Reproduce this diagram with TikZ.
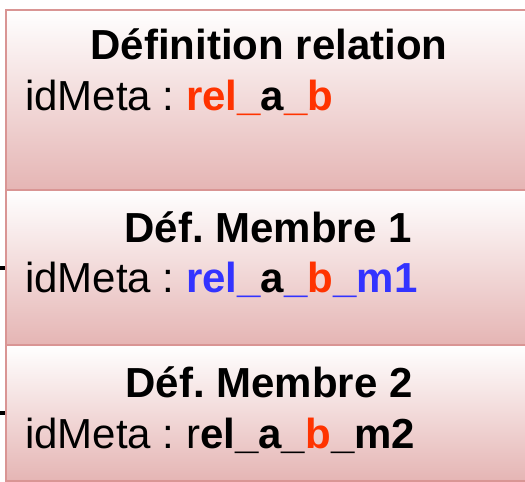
\documentclass[tikz,border=0pt]{standalone}
\usepackage{fontspec}
\setmainfont{Liberation Sans}
\usetikzlibrary{positioning}
\definecolor{rouge}{RGB}{255,51,0}
\definecolor{bleu}{RGB}{51,51,255}
\definecolor{rose}{RGB}{229,181,180}
\definecolor{bord}{RGB}{217,149,148}
\frenchspacing

\begin{document}
\begin{tikzpicture}[x=1pt,y=-1pt,
  boite/.style={rectangle, draw=bord, line width=2pt, top color=white, bottom color=rose,
    anchor=north west, inner sep=0pt, minimum width=540pt},
  titre/.style={font=\fontsize{42}{42}\selectfont\bfseries, anchor=base, inner sep=0pt},
  ligne/.style={font=\fontsize{42}{42}\selectfont, anchor=base west, inner sep=0pt},
  bout/.style={line width=4pt}]
\useasboundingbox (0,0) rectangle (525,482);
\clip (0,0) rectangle (525,482);
%les trois boites
\node[boite, minimum height=180pt] (rel) at (5,9) {};
\node[boite, minimum height=155pt] (m1) at (5,189) {};
\node[boite, minimum height=136pt] (m2) at (5,344) {};
%textes
\node[titre] (trel) at (269,59) {Définition relation};
\node[ligne] (irel) at (25,110) {idMeta\ :\ \textbf{\textcolor{rouge}{rel\_}a\textcolor{rouge}{\_b}}};
\node[titre] (tm1) at (268,242) {Déf. Membre 1};
\node[ligne] (im1) at (25,292) {idMeta\ :\ \textbf{\textcolor{bleu}{rel\_}a\textcolor{bleu}{\_}\textcolor{rouge}{b}\textcolor{bleu}{\_m1}}};
\node[titre] (tm2) at (269,397) {Déf. Membre 2};
\node[ligne] (im2) at (25,448) {idMeta\ :\ r\textbf{el\_a\_\textcolor{rouge}{b}\_m2}};
%bouts de liens
\coordinate[left=6pt of m1.west] (e1);
\coordinate[left=6pt of m2.west] (e2);
\draw[bout] (e1) -- (m1.west);
\draw[bout] (e2) -- (m2.west);
\end{tikzpicture}
\end{document}
